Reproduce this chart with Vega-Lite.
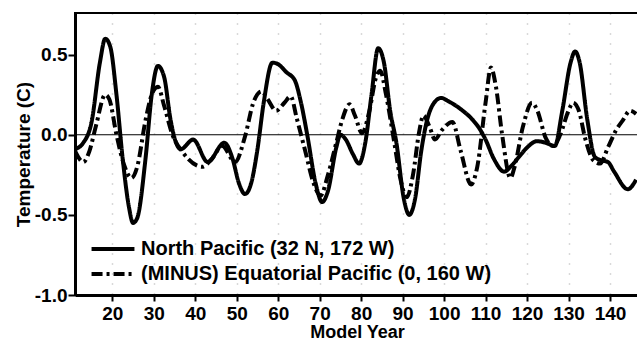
{
  "$schema": "https://vega.github.io/schema/vega-lite/v6.json",
  "width": 564,
  "height": 282,
  "autosize": {"type": "none"},
  "padding": {"left": 75, "top": 13, "right": 0, "bottom": 43},
  "background": "white",
  "config": {
    "view": {"stroke": "black", "strokeWidth": 2},
    "font": "Liberation Sans",
    "axis": {"labelFont": "Liberation Sans", "titleFont": "Liberation Sans", "labelColor": "black", "titleColor": "black", "domainColor": "black", "tickColor": "black"}
  },
  "datasets": {
    "series": [
      {"year": 11, "value": -0.09, "series": "North Pacific (32 N, 172 W)"},
      {"year": 13, "value": -0.05, "series": "North Pacific (32 N, 172 W)"},
      {"year": 15, "value": 0.08, "series": "North Pacific (32 N, 172 W)"},
      {"year": 17, "value": 0.45, "series": "North Pacific (32 N, 172 W)"},
      {"year": 18.3, "value": 0.6, "series": "North Pacific (32 N, 172 W)"},
      {"year": 19.5, "value": 0.55, "series": "North Pacific (32 N, 172 W)"},
      {"year": 21, "value": 0.25, "series": "North Pacific (32 N, 172 W)"},
      {"year": 22.5, "value": -0.15, "series": "North Pacific (32 N, 172 W)"},
      {"year": 24, "value": -0.45, "series": "North Pacific (32 N, 172 W)"},
      {"year": 25, "value": -0.55, "series": "North Pacific (32 N, 172 W)"},
      {"year": 26, "value": -0.52, "series": "North Pacific (32 N, 172 W)"},
      {"year": 28, "value": -0.15, "series": "North Pacific (32 N, 172 W)"},
      {"year": 29.5, "value": 0.25, "series": "North Pacific (32 N, 172 W)"},
      {"year": 31, "value": 0.43, "series": "North Pacific (32 N, 172 W)"},
      {"year": 32.5, "value": 0.36, "series": "North Pacific (32 N, 172 W)"},
      {"year": 34, "value": 0.1, "series": "North Pacific (32 N, 172 W)"},
      {"year": 35, "value": -0.02, "series": "North Pacific (32 N, 172 W)"},
      {"year": 36.5, "value": -0.09, "series": "North Pacific (32 N, 172 W)"},
      {"year": 39.5, "value": -0.03, "series": "North Pacific (32 N, 172 W)"},
      {"year": 43, "value": -0.17, "series": "North Pacific (32 N, 172 W)"},
      {"year": 47, "value": -0.05, "series": "North Pacific (32 N, 172 W)"},
      {"year": 49, "value": -0.15, "series": "North Pacific (32 N, 172 W)"},
      {"year": 50.5, "value": -0.3, "series": "North Pacific (32 N, 172 W)"},
      {"year": 52, "value": -0.37, "series": "North Pacific (32 N, 172 W)"},
      {"year": 53.5, "value": -0.3, "series": "North Pacific (32 N, 172 W)"},
      {"year": 55, "value": -0.09, "series": "North Pacific (32 N, 172 W)"},
      {"year": 56.5, "value": 0.2, "series": "North Pacific (32 N, 172 W)"},
      {"year": 58.6, "value": 0.45, "series": "North Pacific (32 N, 172 W)"},
      {"year": 60, "value": 0.44, "series": "North Pacific (32 N, 172 W)"},
      {"year": 62, "value": 0.39, "series": "North Pacific (32 N, 172 W)"},
      {"year": 64, "value": 0.34, "series": "North Pacific (32 N, 172 W)"},
      {"year": 65.5, "value": 0.2, "series": "North Pacific (32 N, 172 W)"},
      {"year": 67, "value": 0.0, "series": "North Pacific (32 N, 172 W)"},
      {"year": 69, "value": -0.3, "series": "North Pacific (32 N, 172 W)"},
      {"year": 70.6, "value": -0.42, "series": "North Pacific (32 N, 172 W)"},
      {"year": 72, "value": -0.35, "series": "North Pacific (32 N, 172 W)"},
      {"year": 74, "value": -0.08, "series": "North Pacific (32 N, 172 W)"},
      {"year": 75, "value": 0.0, "series": "North Pacific (32 N, 172 W)"},
      {"year": 76.3, "value": -0.03, "series": "North Pacific (32 N, 172 W)"},
      {"year": 78, "value": -0.12, "series": "North Pacific (32 N, 172 W)"},
      {"year": 79.5, "value": -0.18, "series": "North Pacific (32 N, 172 W)"},
      {"year": 81, "value": -0.05, "series": "North Pacific (32 N, 172 W)"},
      {"year": 82.5, "value": 0.25, "series": "North Pacific (32 N, 172 W)"},
      {"year": 84.1, "value": 0.54, "series": "North Pacific (32 N, 172 W)"},
      {"year": 85.5, "value": 0.45, "series": "North Pacific (32 N, 172 W)"},
      {"year": 87, "value": 0.15, "series": "North Pacific (32 N, 172 W)"},
      {"year": 88.5, "value": -0.05, "series": "North Pacific (32 N, 172 W)"},
      {"year": 90.3, "value": -0.4, "series": "North Pacific (32 N, 172 W)"},
      {"year": 91.6, "value": -0.5, "series": "North Pacific (32 N, 172 W)"},
      {"year": 93, "value": -0.4, "series": "North Pacific (32 N, 172 W)"},
      {"year": 94.5, "value": -0.1, "series": "North Pacific (32 N, 172 W)"},
      {"year": 95.7, "value": 0.07, "series": "North Pacific (32 N, 172 W)"},
      {"year": 97.6, "value": 0.2, "series": "North Pacific (32 N, 172 W)"},
      {"year": 99.3, "value": 0.23, "series": "North Pacific (32 N, 172 W)"},
      {"year": 101, "value": 0.21, "series": "North Pacific (32 N, 172 W)"},
      {"year": 104, "value": 0.16, "series": "North Pacific (32 N, 172 W)"},
      {"year": 107, "value": 0.09, "series": "North Pacific (32 N, 172 W)"},
      {"year": 108.5, "value": 0.04, "series": "North Pacific (32 N, 172 W)"},
      {"year": 110, "value": -0.03, "series": "North Pacific (32 N, 172 W)"},
      {"year": 112, "value": -0.15, "series": "North Pacific (32 N, 172 W)"},
      {"year": 114.5, "value": -0.23, "series": "North Pacific (32 N, 172 W)"},
      {"year": 116, "value": -0.2, "series": "North Pacific (32 N, 172 W)"},
      {"year": 118, "value": -0.14, "series": "North Pacific (32 N, 172 W)"},
      {"year": 120, "value": -0.08, "series": "North Pacific (32 N, 172 W)"},
      {"year": 122.4, "value": -0.04, "series": "North Pacific (32 N, 172 W)"},
      {"year": 124.5, "value": -0.05, "series": "North Pacific (32 N, 172 W)"},
      {"year": 126.7, "value": -0.07, "series": "North Pacific (32 N, 172 W)"},
      {"year": 128.5, "value": 0.15, "series": "North Pacific (32 N, 172 W)"},
      {"year": 130.5, "value": 0.45, "series": "North Pacific (32 N, 172 W)"},
      {"year": 131.6, "value": 0.52, "series": "North Pacific (32 N, 172 W)"},
      {"year": 132.7, "value": 0.45, "series": "North Pacific (32 N, 172 W)"},
      {"year": 134.5, "value": 0.1, "series": "North Pacific (32 N, 172 W)"},
      {"year": 136.4, "value": -0.14, "series": "North Pacific (32 N, 172 W)"},
      {"year": 138, "value": -0.16, "series": "North Pacific (32 N, 172 W)"},
      {"year": 139.5, "value": -0.17, "series": "North Pacific (32 N, 172 W)"},
      {"year": 141, "value": -0.23, "series": "North Pacific (32 N, 172 W)"},
      {"year": 144.3, "value": -0.34, "series": "North Pacific (32 N, 172 W)"},
      {"year": 146.3, "value": -0.28, "series": "North Pacific (32 N, 172 W)"},

      {"year": 11, "value": -0.1, "series": "(MINUS) Equatorial Pacific (0, 160 W)"},
      {"year": 13, "value": -0.17, "series": "(MINUS) Equatorial Pacific (0, 160 W)"},
      {"year": 14.5, "value": -0.1, "series": "(MINUS) Equatorial Pacific (0, 160 W)"},
      {"year": 16, "value": 0.05, "series": "(MINUS) Equatorial Pacific (0, 160 W)"},
      {"year": 18.3, "value": 0.25, "series": "(MINUS) Equatorial Pacific (0, 160 W)"},
      {"year": 19.3, "value": 0.22, "series": "(MINUS) Equatorial Pacific (0, 160 W)"},
      {"year": 21, "value": 0.0, "series": "(MINUS) Equatorial Pacific (0, 160 W)"},
      {"year": 23, "value": -0.2, "series": "(MINUS) Equatorial Pacific (0, 160 W)"},
      {"year": 24.6, "value": -0.27, "series": "(MINUS) Equatorial Pacific (0, 160 W)"},
      {"year": 26, "value": -0.2, "series": "(MINUS) Equatorial Pacific (0, 160 W)"},
      {"year": 28, "value": 0.09, "series": "(MINUS) Equatorial Pacific (0, 160 W)"},
      {"year": 29.5, "value": 0.25, "series": "(MINUS) Equatorial Pacific (0, 160 W)"},
      {"year": 31, "value": 0.3, "series": "(MINUS) Equatorial Pacific (0, 160 W)"},
      {"year": 32.5, "value": 0.18, "series": "(MINUS) Equatorial Pacific (0, 160 W)"},
      {"year": 34.5, "value": 0.0, "series": "(MINUS) Equatorial Pacific (0, 160 W)"},
      {"year": 37, "value": -0.11, "series": "(MINUS) Equatorial Pacific (0, 160 W)"},
      {"year": 41.7, "value": -0.2, "series": "(MINUS) Equatorial Pacific (0, 160 W)"},
      {"year": 44, "value": -0.15, "series": "(MINUS) Equatorial Pacific (0, 160 W)"},
      {"year": 46.5, "value": -0.07, "series": "(MINUS) Equatorial Pacific (0, 160 W)"},
      {"year": 49.6, "value": -0.17, "series": "(MINUS) Equatorial Pacific (0, 160 W)"},
      {"year": 52, "value": -0.01, "series": "(MINUS) Equatorial Pacific (0, 160 W)"},
      {"year": 54, "value": 0.2, "series": "(MINUS) Equatorial Pacific (0, 160 W)"},
      {"year": 56, "value": 0.27, "series": "(MINUS) Equatorial Pacific (0, 160 W)"},
      {"year": 57.5, "value": 0.22, "series": "(MINUS) Equatorial Pacific (0, 160 W)"},
      {"year": 59.5, "value": 0.15, "series": "(MINUS) Equatorial Pacific (0, 160 W)"},
      {"year": 61.5, "value": 0.2, "series": "(MINUS) Equatorial Pacific (0, 160 W)"},
      {"year": 63, "value": 0.24, "series": "(MINUS) Equatorial Pacific (0, 160 W)"},
      {"year": 64.5, "value": 0.1, "series": "(MINUS) Equatorial Pacific (0, 160 W)"},
      {"year": 66.5, "value": -0.1, "series": "(MINUS) Equatorial Pacific (0, 160 W)"},
      {"year": 68.5, "value": -0.3, "series": "(MINUS) Equatorial Pacific (0, 160 W)"},
      {"year": 70.2, "value": -0.38, "series": "(MINUS) Equatorial Pacific (0, 160 W)"},
      {"year": 72, "value": -0.25, "series": "(MINUS) Equatorial Pacific (0, 160 W)"},
      {"year": 74, "value": -0.05, "series": "(MINUS) Equatorial Pacific (0, 160 W)"},
      {"year": 75.5, "value": 0.1, "series": "(MINUS) Equatorial Pacific (0, 160 W)"},
      {"year": 77.2, "value": 0.19, "series": "(MINUS) Equatorial Pacific (0, 160 W)"},
      {"year": 78.5, "value": 0.12, "series": "(MINUS) Equatorial Pacific (0, 160 W)"},
      {"year": 80.2, "value": 0.01, "series": "(MINUS) Equatorial Pacific (0, 160 W)"},
      {"year": 82, "value": 0.15, "series": "(MINUS) Equatorial Pacific (0, 160 W)"},
      {"year": 83.5, "value": 0.35, "series": "(MINUS) Equatorial Pacific (0, 160 W)"},
      {"year": 84.6, "value": 0.4, "series": "(MINUS) Equatorial Pacific (0, 160 W)"},
      {"year": 86, "value": 0.25, "series": "(MINUS) Equatorial Pacific (0, 160 W)"},
      {"year": 88, "value": -0.05, "series": "(MINUS) Equatorial Pacific (0, 160 W)"},
      {"year": 89.5, "value": -0.28, "series": "(MINUS) Equatorial Pacific (0, 160 W)"},
      {"year": 91, "value": -0.39, "series": "(MINUS) Equatorial Pacific (0, 160 W)"},
      {"year": 92.5, "value": -0.25, "series": "(MINUS) Equatorial Pacific (0, 160 W)"},
      {"year": 94, "value": 0.02, "series": "(MINUS) Equatorial Pacific (0, 160 W)"},
      {"year": 95, "value": 0.12, "series": "(MINUS) Equatorial Pacific (0, 160 W)"},
      {"year": 96.5, "value": 0.05, "series": "(MINUS) Equatorial Pacific (0, 160 W)"},
      {"year": 97.8, "value": -0.03, "series": "(MINUS) Equatorial Pacific (0, 160 W)"},
      {"year": 99.5, "value": 0.03, "series": "(MINUS) Equatorial Pacific (0, 160 W)"},
      {"year": 102, "value": 0.08, "series": "(MINUS) Equatorial Pacific (0, 160 W)"},
      {"year": 104, "value": -0.1, "series": "(MINUS) Equatorial Pacific (0, 160 W)"},
      {"year": 106.5, "value": -0.31, "series": "(MINUS) Equatorial Pacific (0, 160 W)"},
      {"year": 108, "value": -0.2, "series": "(MINUS) Equatorial Pacific (0, 160 W)"},
      {"year": 110, "value": 0.2, "series": "(MINUS) Equatorial Pacific (0, 160 W)"},
      {"year": 111.3, "value": 0.42, "series": "(MINUS) Equatorial Pacific (0, 160 W)"},
      {"year": 112.5, "value": 0.3, "series": "(MINUS) Equatorial Pacific (0, 160 W)"},
      {"year": 114, "value": 0.0, "series": "(MINUS) Equatorial Pacific (0, 160 W)"},
      {"year": 116, "value": -0.27, "series": "(MINUS) Equatorial Pacific (0, 160 W)"},
      {"year": 117, "value": -0.2, "series": "(MINUS) Equatorial Pacific (0, 160 W)"},
      {"year": 119, "value": 0.05, "series": "(MINUS) Equatorial Pacific (0, 160 W)"},
      {"year": 121.2, "value": 0.2, "series": "(MINUS) Equatorial Pacific (0, 160 W)"},
      {"year": 122.5, "value": 0.15, "series": "(MINUS) Equatorial Pacific (0, 160 W)"},
      {"year": 124.5, "value": -0.02, "series": "(MINUS) Equatorial Pacific (0, 160 W)"},
      {"year": 126.3, "value": -0.07, "series": "(MINUS) Equatorial Pacific (0, 160 W)"},
      {"year": 128, "value": 0.0, "series": "(MINUS) Equatorial Pacific (0, 160 W)"},
      {"year": 130, "value": 0.15, "series": "(MINUS) Equatorial Pacific (0, 160 W)"},
      {"year": 131.1, "value": 0.2, "series": "(MINUS) Equatorial Pacific (0, 160 W)"},
      {"year": 132.5, "value": 0.15, "series": "(MINUS) Equatorial Pacific (0, 160 W)"},
      {"year": 134, "value": -0.02, "series": "(MINUS) Equatorial Pacific (0, 160 W)"},
      {"year": 136, "value": -0.16, "series": "(MINUS) Equatorial Pacific (0, 160 W)"},
      {"year": 137.6, "value": -0.18, "series": "(MINUS) Equatorial Pacific (0, 160 W)"},
      {"year": 139.5, "value": -0.08, "series": "(MINUS) Equatorial Pacific (0, 160 W)"},
      {"year": 141.5, "value": 0.03, "series": "(MINUS) Equatorial Pacific (0, 160 W)"},
      {"year": 143.1, "value": 0.09, "series": "(MINUS) Equatorial Pacific (0, 160 W)"},
      {"year": 144.8, "value": 0.15, "series": "(MINUS) Equatorial Pacific (0, 160 W)"},
      {"year": 146.3, "value": 0.13, "series": "(MINUS) Equatorial Pacific (0, 160 W)"}
    ],
    "zero": [{"level": 0}]
  },
  "layer": [
    {
      "data": {"name": "zero"},
      "mark": {"type": "rule", "color": "black", "strokeWidth": 1.2},
      "encoding": {"y": {"field": "level", "type": "quantitative", "scale": {"domain": [-1.0, 0.76], "nice": false, "zero": false}}}
    },
    {
      "data": {"name": "series"},
      "mark": {"type": "line", "color": "black", "strokeWidth": 4, "interpolate": "monotone", "clip": true},
      "encoding": {
        "x": {
          "field": "year", "type": "quantitative",
          "scale": {"domain": [11, 147], "nice": false, "zero": false},
          "axis": {
            "title": "Model Year", "values": [20, 30, 40, 50, 60, 70, 80, 90, 100, 110, 120, 130, 140],
            "labelFontSize": 19, "labelFontWeight": "bold", "labelPadding": 3, "tickSize": 6, "tickWidth": 2,
            "domainWidth": 3, "titleFontSize": 18, "titleFontWeight": "bold", "titlePadding": 0,
            "grid": true, "gridColor": "black", "gridDash": [1, 9], "gridOpacity": 0.3, "gridWidth": 1.5
          }
        },
        "y": {
          "field": "value", "type": "quantitative",
          "scale": {"domain": [-1.0, 0.76], "nice": false, "zero": false},
          "axis": {
            "title": "Temperature (C)", "values": [-1.0, -0.5, 0.0, 0.5],
            "labelExpr": "replace(format(datum.value, '.1f'), '\u2212', '-')",
            "labelFontSize": 19, "labelFontWeight": "bold", "labelPadding": 1, "tickSize": 7, "tickWidth": 2,
            "domainWidth": 3, "titleFontSize": 19, "titleFontWeight": "bold", "titlePadding": 1, "grid": false
          }
        },
        "strokeDash": {
          "field": "series", "type": "nominal",
          "scale": {"domain": ["North Pacific (32 N, 172 W)", "(MINUS) Equatorial Pacific (0, 160 W)"], "range": [[1, 0], [11, 4, 3, 4]]},
          "legend": {
            "title": null, "orient": "none", "legendX": 23, "legendY": 221,
            "symbolType": "M-1.65,0H1.65", "symbolSize": 676, "symbolStrokeWidth": 4, "symbolStrokeColor": "black", "symbolFillColor": "transparent",
            "labelFontSize": 20, "labelFontWeight": "bold", "labelFont": "Liberation Sans", "labelColor": "black", "labelOffset": 13,
            "rowPadding": 0, "labelLimit": 450
          }
        }
      }
    }
  ]
}
